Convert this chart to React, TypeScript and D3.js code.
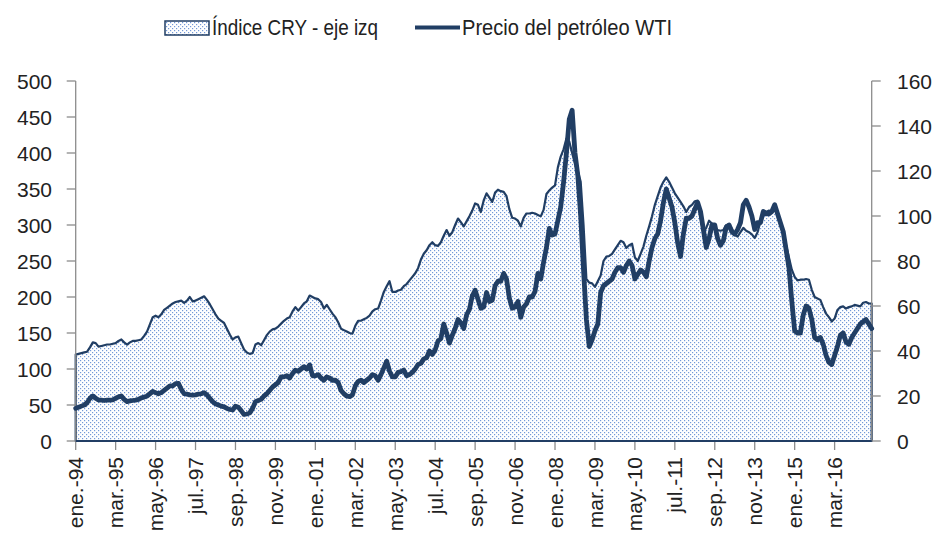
import React from 'react';
import * as d3 from 'd3';

// Índice CRY (eje izq), mensual desde ene-94
const cry: number[] = [
  120, 121, 122, 123, 124, 130, 137, 136, 131, 132, 133, 134, // 1994
  134, 135, 136, 139, 141, 137, 134, 137, 139, 139, 140, 141, // 1995
  146, 152, 162, 172, 174, 172, 176, 182, 185, 188, 191, 193, // 1996
  194, 195, 192, 195, 200, 194, 195, 197, 199, 201, 196, 190, // 1997
  183, 176, 170, 167, 164, 156, 148, 141, 144, 145, 136, 127, // 1998
  123, 121, 122, 134, 136, 133, 140, 147, 152, 155, 156, 159, // 1999
  163, 167, 170, 172, 180, 186, 181, 186, 191, 194, 202, 200, // 2000
  198, 197, 193, 184, 189, 183, 177, 172, 165, 156, 154, 152, // 2001
  150, 149, 160, 167, 167, 169, 171, 174, 180, 183, 184, 195, // 2002
  207, 215, 222, 207, 207, 209, 210, 215, 218, 223, 228, 233, // 2003
  240, 252, 260, 265, 272, 276, 272, 271, 276, 285, 293, 285, // 2004
  290, 300, 309, 304, 298, 305, 312, 320, 330, 328, 318, 334, // 2005
  344, 338, 332, 345, 349, 347, 346, 340, 322, 310, 309, 306, // 2006
  298, 310, 316, 316, 317, 316, 314, 312, 321, 343, 348, 352, // 2007
  355, 380, 395, 405, 420, 416, 400, 385, 375, 360, 300, 225, // 2008
  220, 219, 214, 222, 230, 250, 256, 257, 260, 266, 272, 278, // 2009
  276, 268, 272, 274, 255, 250, 260, 270, 285, 298, 312, 328, // 2010
  340, 352, 360, 366, 360, 352, 344, 338, 332, 326, 318, 325, // 2011
  328, 333, 334, 310, 290, 296, 306, 302, 296, 293, 292, 293, // 2012
  300, 300, 295, 286, 284, 290, 296, 292, 290, 287, 282, 290, // 2013
  305, 320, 318, 320, 318, 326, 315, 300, 290, 272, 255, 238, // 2014
  228, 223, 224, 224, 225, 224, 210, 200, 198, 196, 186, 177, // 2015
  172, 166, 170, 182, 186, 187, 184, 186, 187, 189, 188, 187, // 2016
  192, 193, 191, 191, // 2017
];

// Precio del petróleo WTI (eje der)
const wti: number[] = [
  14.5, 15, 15.5, 16, 17, 19, 20, 19, 18.2, 18.2, 18, 18.2, // 1994
  18.2, 18.3, 19, 19.6, 20, 18.5, 17.5, 17.8, 18, 18.2, 18.5, 19.2, // 1995
  19.5, 20, 21, 22, 21.5, 21, 21.5, 22.5, 23.5, 24.5, 24.5, 25.5, // 1996
  25.6, 23, 21, 20.8, 20.5, 20.4, 20.5, 20.8, 21, 21.5, 20.5, 19, // 1997
  17.5, 16.5, 16, 15.5, 15.2, 14.5, 14, 13.8, 15.5, 15, 13.5, 11.8, // 1998
  12, 12.5, 14.5, 17.5, 18, 18.5, 20, 21, 22.5, 24, 25, 26, // 1999
  28.5, 28.5, 29, 28, 30, 31.5, 31, 32, 33, 32, 33.8, 29, // 2000
  29, 29.5, 28, 27, 28.5, 28, 27, 27, 26, 22.5, 21, 20, // 2001
  19.7, 20.5, 24.5, 26.5, 27, 26, 27, 28, 29.5, 29, 27, 29.5, // 2002
  32.5, 35.5, 31, 28.5, 28.5, 30.5, 30.8, 31.5, 29, 29.5, 30.5, 32, // 2003
  34, 34.5, 36.5, 37, 40, 38.5, 40.5, 44.5, 45.5, 52, 48, 43.5, // 2004
  47, 50, 54, 52.5, 50, 56, 58.5, 64.5, 67, 63, 59, 59.5, // 2005
  66, 62, 62.5, 69, 71, 71, 74.5, 72, 63.5, 59, 59.5, 62, // 2006
  55, 59.5, 61, 64, 64, 66.5, 74.5, 72, 79.5, 86, 94.5, 91.5, // 2007
  92, 98, 104, 115, 128, 143, 147, 128, 118, 100, 76, 54, // 2008
  42, 45, 49, 52, 66, 69, 70, 71, 72, 75, 77, 77, // 2009
  75, 78, 80, 78, 72, 74, 76, 75, 73, 80, 86, 90, // 2010
  92, 98, 106, 112, 108, 104, 97, 88, 82, 92, 99, 99, // 2011
  100, 103, 106, 102, 94, 86, 90, 96, 96, 90, 87, 89, // 2012
  95, 96, 93, 92, 94, 97, 105, 107, 104, 100, 94, 97, // 2013
  97, 102, 101, 101, 102, 105, 101, 97, 93, 85, 77, 62, // 2014
  49, 48, 48, 56, 60, 59, 54, 46, 45, 46, 43, 38, // 2015
  35, 34, 38, 42, 47, 48, 44, 43, 46, 48, 50, 52, // 2016
  53, 54, 52, 50, // 2017
];

const xTickLabels = [
  'ene.-94', 'mar.-95', 'may.-96', 'jul.-97', 'sep.-98', 'nov.-99', 'ene.-01',
  'mar.-02', 'may.-03', 'jul.-04', 'sep.-05', 'nov.-06', 'ene.-08', 'mar.-09',
  'may.-10', 'jul.-11', 'sep.-12', 'nov.-13', 'ene.-15', 'mar.-16',
];
const tickEvery = 14; // meses entre etiquetas
const leftTicks = [0, 50, 100, 150, 200, 250, 300, 350, 400, 450, 500];
const rightTicks = [0, 20, 40, 60, 80, 100, 120, 140, 160];

const W = 941;
const H = 540;
const margin = { left: 75.7, right: 69.3, top: 81, bottom: 99 };
const navy = '#213e64';
const axisGray = '#8c8c8c';
const font = "'Liberation Sans', Arial, sans-serif";

export default function App() {
  const x = d3.scaleLinear().domain([0, cry.length - 1]).range([margin.left, W - margin.right]);
  const yL = d3.scaleLinear().domain([0, 500]).range([H - margin.bottom, margin.top]);
  const yR = d3.scaleLinear().domain([0, 160]).range([H - margin.bottom, margin.top]);

  const area = d3.area<number>()
    .x((_, i) => x(i))
    .y0(yL(0))
    .y1(d => yL(d));

  const line = d3.line<number>()
    .x((_, i) => x(i))
    .y(d => yR(d));

  const x0 = x.range()[0];
  const x1 = x.range()[1];
  const yBase = yL(0);

  return (
    <div style={{ position: 'fixed', left: 0, top: 0 }}>
      <svg width={W} height={H} style={{ display: 'block', background: '#fff' }}>
        <defs>
          <pattern id="dots" width={4} height={4} patternUnits="userSpaceOnUse">
            <rect width={4} height={4} fill="#ffffff" />
            <rect x={0} y={0} width={1.2} height={1.2} fill="#7399d8" />
            <rect x={2} y={2} width={1.2} height={1.2} fill="#7399d8" />
          </pattern>
        </defs>

        {/* legend */}
        <g fontFamily={font} fontSize={22} fill="#222">
          <rect x={165} y={21} width={44} height={14} fill="url(#dots)" stroke={navy} strokeWidth={1.5} />
          <text x={212} y={35} textLength={166} lengthAdjust="spacingAndGlyphs">Índice CRY - eje izq</text>
          <line x1={415} x2={460} y1={27.5} y2={27.5} stroke={navy} strokeWidth={4} />
          <text x={462} y={35} textLength={210} lengthAdjust="spacingAndGlyphs">Precio del petróleo WTI</text>
        </g>

        {/* area CRY */}
        <path d={area(cry) ?? ''} fill="url(#dots)" stroke={navy} strokeWidth={2.2} strokeLinejoin="round" />

        {/* axes */}
        <g stroke={axisGray} strokeWidth={1.3}>
          <line x1={x0} x2={x0} y1={margin.top} y2={yBase} />
          <line x1={x1} x2={x1} y1={margin.top} y2={yBase} />
          <line x1={x0} x2={x1} y1={yBase} y2={yBase} />
          {leftTicks.map(t => (
            <line key={'l' + t} x1={x0 - 9} x2={x0} y1={yL(t)} y2={yL(t)} />
          ))}
          {rightTicks.map(t => (
            <line key={'r' + t} x1={x1} x2={x1 + 9} y1={yR(t)} y2={yR(t)} />
          ))}
          {xTickLabels.map((_, k) => (
            <line key={'x' + k} x1={x(k * tickEvery)} x2={x(k * tickEvery)} y1={yBase} y2={yBase + 9} />
          ))}
        </g>

        {/* bottom edge of area over axis */}
        <line x1={x0} x2={x1} y1={yBase} y2={yBase} stroke={navy} strokeWidth={2.2} />

        {/* WTI line */}
        <path d={line(wti) ?? ''} fill="none" stroke={navy} strokeWidth={4.8} strokeLinejoin="round" strokeLinecap="round" />

        {/* tick labels */}
        <g fontFamily={font} fontSize={21} fill="#222">
          {leftTicks.map(t => (
            <text key={'lt' + t} x={52} y={yL(t)} dy="0.36em" textAnchor="end">{t}</text>
          ))}
          {rightTicks.map(t => (
            <text key={'rt' + t} x={897} y={yR(t)} dy="0.36em" textAnchor="start">{t}</text>
          ))}
          {xTickLabels.map((lab, k) => (
            <text
              key={'xt' + k}
              transform={`translate(${x(k * tickEvery)},${yBase + 16}) rotate(-90)`}
              dy="0.36em"
              textAnchor="end"
            >
              {lab}
            </text>
          ))}
        </g>
      </svg>
    </div>
  );
}
